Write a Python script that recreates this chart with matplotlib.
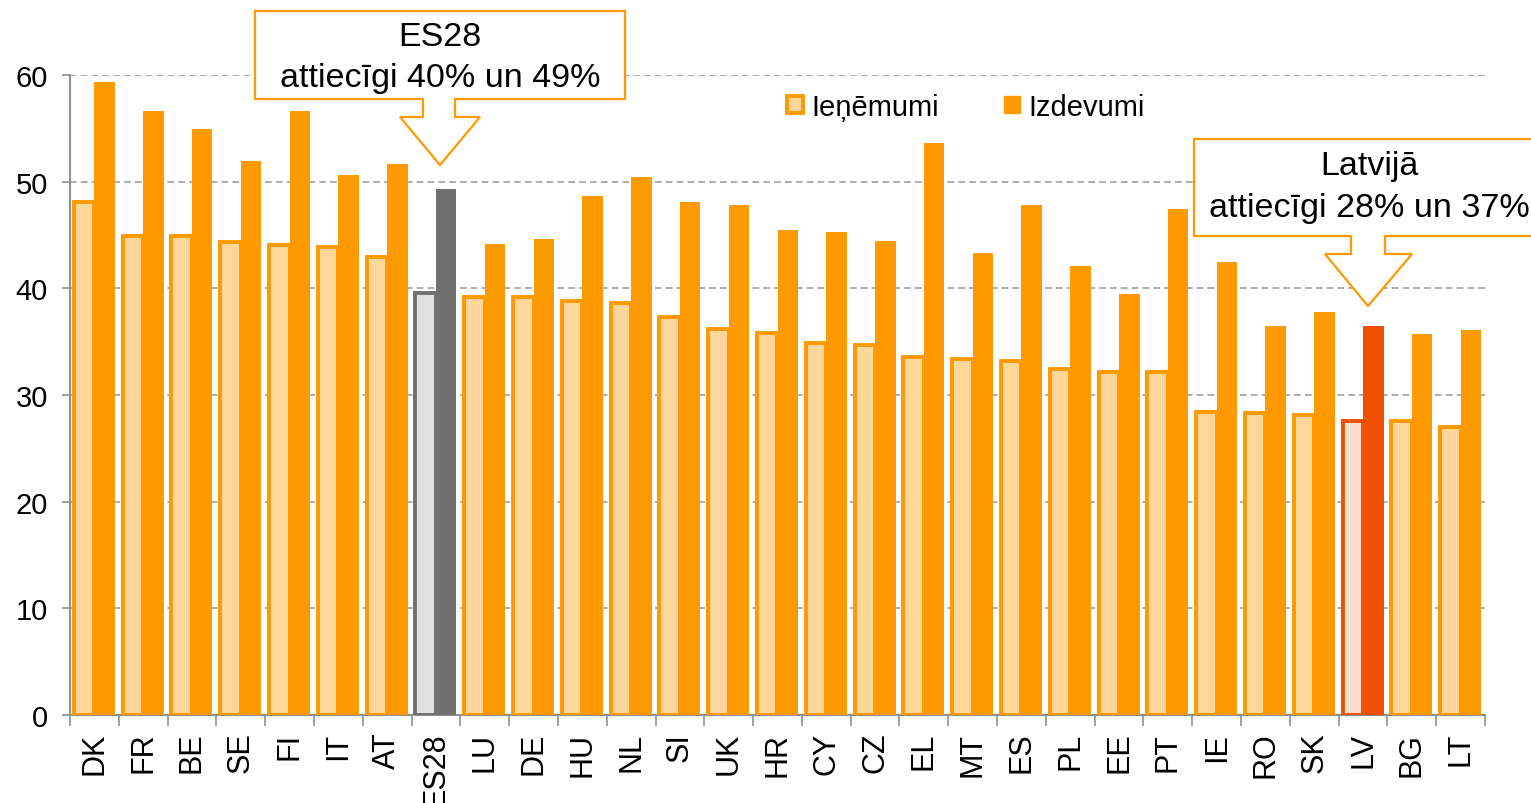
import matplotlib
matplotlib.use("Agg")
import matplotlib.pyplot as plt
from matplotlib.patches import Polygon, Patch
import numpy as np

plt.rcParams['font.family'] = ['Liberation Sans', 'DejaVu Sans']

categories = ["DK", "FR", "BE", "SE", "FI", "IT", "AT", "ES28", "LU", "DE", "HU", "NL",
              "SI", "UK", "HR", "CY", "CZ", "EL", "MT", "ES", "PL", "EE", "PT", "IE",
              "RO", "SK", "LV", "BG", "LT"]
ienemumi = [48.1, 44.9, 44.9, 44.3, 44.1, 43.9, 42.9, 39.6, 39.2, 39.2, 38.8, 38.6,
            37.3, 36.2, 35.8, 34.9, 34.7, 33.6, 33.4, 33.2, 32.4, 32.2, 32.2, 28.4,
            28.3, 28.1, 27.6, 27.6, 27.0]
izdevumi = [59.3, 56.6, 54.9, 51.9, 56.6, 50.6, 51.7, 49.3, 44.2, 44.6, 48.7, 50.4,
            48.1, 47.8, 45.5, 45.3, 44.4, 53.6, 43.3, 47.8, 42.1, 39.5, 47.4, 42.5,
            36.5, 37.8, 36.5, 35.7, 36.1]
yticks = [0, 10, 20, 30, 40, 50, 60]
legend_labels = ["Ieņēmumi", "Izdevumi"]
callout_es = ["ES28", "attiecīgi 40% un 49%"]
callout_lv = ["Latvijā", "attiecīgi 28% un 37%"]

W, H = 1531, 804
fig = plt.figure(figsize=(W / 100, H / 100), dpi=100)
ax = fig.add_axes([70 / W, 1 - 716 / H, (1485 - 70) / W, (716 - 76) / H])

ORANGE = '#FF9900'
LIGHT = '#FDD699'
GREY_D = '#707070'
GREY_L = '#E0E0E0'
RED_D = '#F05000'
RED_L = '#FFDDCC'

light_fc, light_ec, dark_fc = [], [], []
for c in categories:
    if c == "ES28":
        light_fc.append(GREY_L); light_ec.append(GREY_D); dark_fc.append(GREY_D)
    elif c == "LV":
        light_fc.append(RED_L); light_ec.append(RED_D); dark_fc.append(RED_D)
    else:
        light_fc.append(LIGHT); light_ec.append(ORANGE); dark_fc.append(ORANGE)

x = np.arange(len(categories))
bw = 0.42
ax.bar(x - bw / 2, ienemumi, width=bw, color=light_fc, edgecolor=light_ec,
       linewidth=2.8, zorder=3)
ax.bar(x + bw / 2, izdevumi, width=bw, color=dark_fc, edgecolor='none',
       linewidth=0, zorder=3)

ax.set_xlim(-0.5, len(categories) - 0.5)
ax.set_ylim(0, 60)
ax.set_yticks(yticks)
ax.set_yticklabels([str(v) for v in yticks], fontsize=21)
ax.yaxis.grid(True, linestyle=(0, (4, 2.5)), color='#A0A0A0', linewidth=1.2)
ax.set_axisbelow(True)

ax.set_xticks(x)
ax.set_xticklabels(categories, rotation=90, fontsize=22)
ax.set_xticks(np.arange(-0.5, len(categories)), minor=True)
ax.tick_params(axis='x', which='major', length=0, pad=12)
ax.tick_params(axis='x', which='minor', length=8, width=1.2, color='#909090')
ax.tick_params(axis='y', length=6, width=1.2, color='#909090', pad=10)

for s in ['top', 'right']:
    ax.spines[s].set_visible(False)
for s in ['left', 'bottom']:
    ax.spines[s].set_color('#909090')
    ax.spines[s].set_linewidth(1.5)

handles = [Patch(facecolor=LIGHT, edgecolor=ORANGE, linewidth=2.8),
           Patch(facecolor=ORANGE, edgecolor=ORANGE, linewidth=1)]
fig.legend(handles, legend_labels, loc='center left',
           bbox_to_anchor=(787 / W, 1 - 108 / H), ncol=2, frameon=False,
           fontsize=21, handlelength=0.55, handleheight=0.55,
           handletextpad=0.3, columnspacing=2.2, borderpad=0, borderaxespad=0)


def px(pts):
    return [(a / W, 1 - b / H) for a, b in pts]


def callout(box, stem, head, tip, lines, line_y, text_x):
    x0, y0, x1, y1 = box
    s0, s1 = stem
    h0, h1, hy = head
    pts = [(x0, y0), (x1, y0), (x1, y1), (s1, y1), (s1, hy), (h1, hy), tip,
           (h0, hy), (s0, hy), (s0, y1), (x0, y1)]
    fig.add_artist(Polygon(px(pts), closed=True, facecolor='white',
                           edgecolor=ORANGE, linewidth=1.6,
                           transform=fig.transFigure, zorder=10))
    for t, yy in zip(lines, line_y):
        fig.text(text_x / W, 1 - yy / H, t, ha='center', va='center',
                 fontsize=24.5, zorder=11)


callout((255, 12, 625, 100), (423, 455), (400, 480, 118), (440, 166),
        callout_es, (38, 79), 440)
callout((1194, 140, 1545, 237), (1351, 1385), (1325, 1412, 255), (1368, 307),
        callout_lv, (166, 209), 1369)

fig.savefig("out.png", dpi=100)
